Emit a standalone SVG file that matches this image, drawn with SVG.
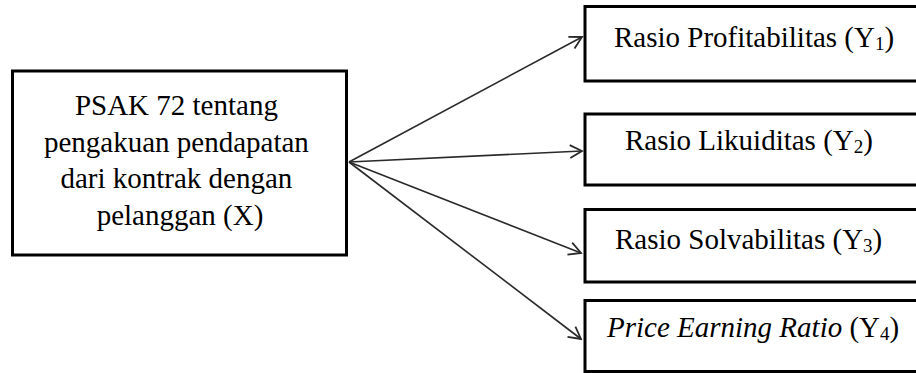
<svg xmlns="http://www.w3.org/2000/svg" width="916" height="373" viewBox="0 0 916 373">
<style>
.box{fill:#fff;stroke:#000;stroke-width:3}
.t{font-family:"Liberation Serif","Times New Roman",serif;font-size:29px;fill:#000}
.sub{font-size:19px}
.c{fill:none;stroke:#2a2a2a;stroke-width:1.6}
</style>
<defs>
<marker id="arr" markerUnits="userSpaceOnUse" markerWidth="16" markerHeight="16" viewBox="0 0 16 16" refX="14" refY="8" orient="auto">
<path d="M2,1.5 L14,8 L2,14.5" fill="none" stroke="#2a2a2a" stroke-width="1.8"/>
</marker>
</defs>
<rect width="916" height="373" fill="#fff"/>
<g id="connectors">
<line class="c" x1="349" y1="162" x2="582" y2="37" marker-end="url(#arr)"/>
<line class="c" x1="349" y1="162" x2="582" y2="151" marker-end="url(#arr)"/>
<line class="c" x1="349" y1="162" x2="581" y2="253" marker-end="url(#arr)"/>
<line class="c" x1="349" y1="162" x2="581" y2="339" marker-end="url(#arr)"/>
</g>
<g id="nodeX">
<rect class="box" x="12.5" y="71" width="334" height="184"/>
<text class="t" text-anchor="middle">
<tspan x="180" y="115">PSAK 72 tentang</tspan>
<tspan x="180" y="152">pengakuan pendapatan</tspan>
<tspan x="180" y="188">dari kontrak dengan</tspan>
<tspan x="180" y="225">pelanggan (X)</tspan>
</text>
</g>
<g id="nodeY1">
<rect class="box" x="585" y="6.5" width="340" height="74.5"/>
<text class="t" x="614" y="47">Rasio Profitabilitas (Y<tspan class="sub" dy="3">1</tspan><tspan dy="-3">)</tspan></text>
</g>
<g id="nodeY2">
<rect class="box" x="585" y="114" width="340" height="71"/>
<text class="t" x="625" y="150">Rasio Likuiditas (Y<tspan class="sub" dy="3">2</tspan><tspan dy="-3">)</tspan></text>
</g>
<g id="nodeY3">
<rect class="box" x="585" y="209.5" width="340" height="72.5"/>
<text class="t" x="615" y="249">Rasio Solvabilitas (Y<tspan class="sub" dy="3">3</tspan><tspan dy="-3">)</tspan></text>
</g>
<g id="nodeY4">
<rect class="box" x="585" y="300.5" width="340" height="71"/>
<text class="t" x="607" y="337"><tspan font-style="italic">Price Earning Ratio</tspan> (Y<tspan class="sub" dy="3">4</tspan><tspan dy="-3">)</tspan></text>
</g>
</svg>
